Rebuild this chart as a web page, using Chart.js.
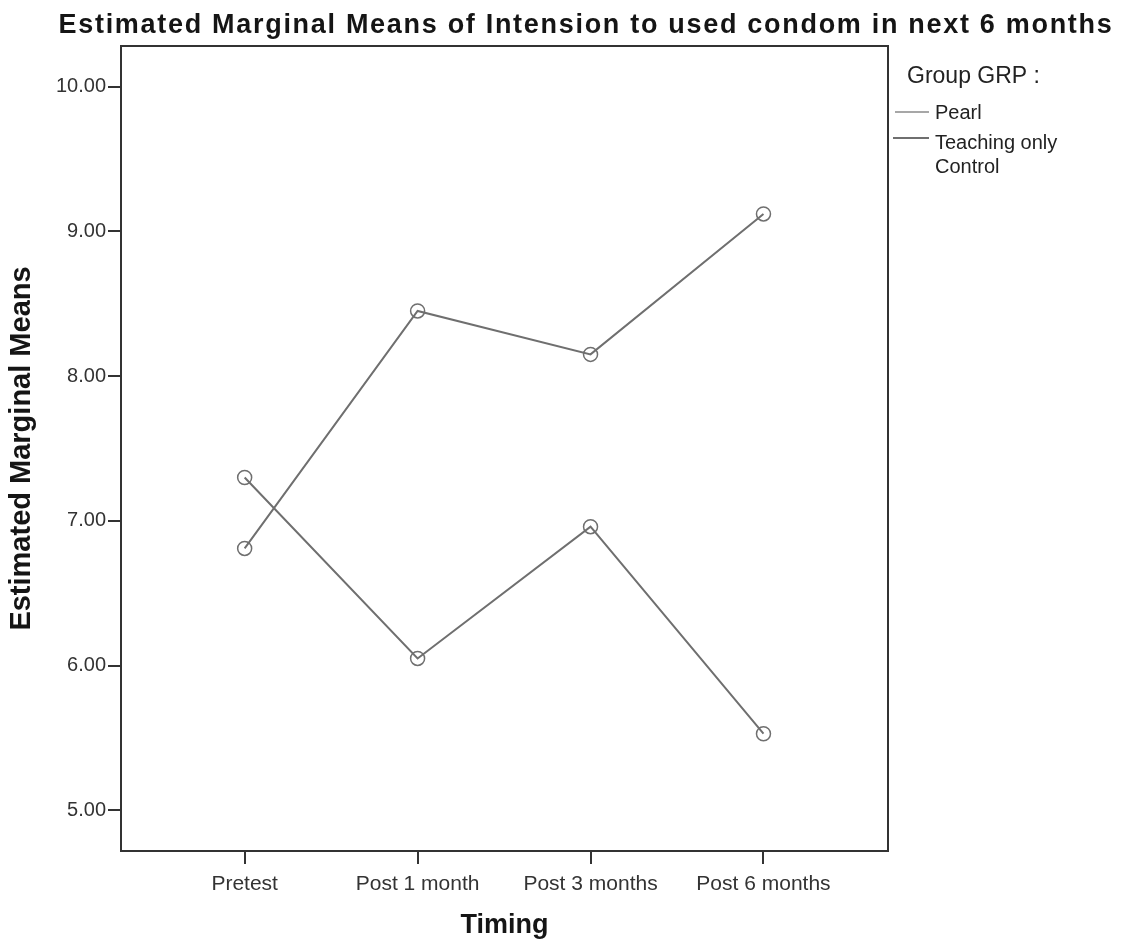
<!DOCTYPE html>
<html>
<head>
<meta charset="utf-8">
<title>Estimated Marginal Means</title>
<script src="https://cdn.jsdelivr.net/npm/chart.js@4"></script>
<style>
  html, body { margin: 0; padding: 0; background: #fff; }
  #wrap { width: 1124px; height: 942px; }
</style>
</head>
<body>
<div id="wrap"><canvas id="emmChart" width="1124" height="942"></canvas></div>
<script>
// ==================== DATA ====================
const timingLabels = ['Pretest', 'Post 1 month', 'Post 3 months', 'Post 6 months'];
const pearlMeans = [6.81, 8.45, 8.15, 9.12];
const controlMeans = [7.30, 6.05, 6.96, 5.53];
const yTicks = [5, 6, 7, 8, 9, 10];
const groupNames = ['Pearl', ['Teaching only', 'Control']];

const FONT = "'Liberation Sans', Arial, sans-serif";
const LINE_GREY = '#6f6f6f';

function toPoints(values) {
  return values.map((v, i) => ({ x: i, y: v }));
}

// ==================== EXTRA DRAWING ====================
// frame round the plot, title on top and the group legend on the right
const spssExtras = {
  id: 'spssExtras',
  afterDraw(chart) {
    const { ctx, chartArea: a } = chart;
    ctx.save();
    ctx.strokeStyle = '#333';
    ctx.lineWidth = 2;
    ctx.strokeRect(a.left, a.top, a.right - a.left, a.bottom - a.top);

    // title
    ctx.fillStyle = '#151515';
    ctx.font = 'bold 27px ' + FONT;
    ctx.textAlign = 'center';
    ctx.textBaseline = 'alphabetic';
    ctx.letterSpacing = '1.7px';
    ctx.fillText('Estimated Marginal Means of Intension to used condom in next 6 months', 586, 33);
    ctx.letterSpacing = '0px';

    // legend
    ctx.textAlign = 'left';
    ctx.fillStyle = '#222';
    ctx.font = '23px ' + FONT;
    ctx.fillText('Group GRP :', 907, 83);

    ctx.font = '20px ' + FONT;
    ctx.strokeStyle = '#8a8a8a';
    ctx.lineWidth = 1.5;
    ctx.beginPath(); ctx.moveTo(895, 112); ctx.lineTo(929, 112); ctx.stroke();
    ctx.fillText(groupNames[0], 935, 119);

    ctx.strokeStyle = LINE_GREY;
    ctx.lineWidth = 2;
    ctx.beginPath(); ctx.moveTo(893, 138); ctx.lineTo(929, 138); ctx.stroke();
    ctx.fillText(groupNames[1][0], 935, 149);
    ctx.fillText(groupNames[1][1], 935, 173);
    ctx.restore();
  }
};

// ==================== LINE CHART ====================
function initMeansChart(canvas) {
  const lineStyle = {
    borderColor: LINE_GREY,
    borderWidth: 2,
    pointStyle: 'circle',
    pointRadius: 7,
    pointBorderWidth: 1.5,
    pointBorderColor: LINE_GREY,
    pointBackgroundColor: 'rgba(0,0,0,0)',
    tension: 0,
    fill: false
  };

  new Chart(canvas, {
    type: 'line',
    data: {
      datasets: [
        Object.assign({ label: 'Pearl', data: toPoints(pearlMeans) }, lineStyle),
        Object.assign({ label: 'Teaching only Control', data: toPoints(controlMeans) }, lineStyle)
      ]
    },
    options: {
      responsive: false,
      animation: false,
      layout: { padding: { top: 46, right: 236, left: 0, bottom: 0 } },
      plugins: {
        legend: { display: false },
        title: { display: false },
        tooltip: { enabled: false }
      },
      scales: {
        x: {
          type: 'linear',
          min: -0.715,
          max: 3.72,
          afterBuildTicks: (scale) => { scale.ticks = timingLabels.map((_, i) => ({ value: i })); },
          afterFit: (scale) => { scale.height = 91; },
          border: { display: true, color: '#333', width: 2 },
          grid: { drawOnChartArea: false, drawTicks: true, tickLength: 13, color: '#333', lineWidth: 2 },
          ticks: {
            color: '#333',
            font: { family: FONT, size: 21 },
            padding: 8,
            maxRotation: 0,
            callback: (v) => timingLabels[v]
          },
          title: {
            display: true,
            text: 'Timing',
            color: '#151515',
            font: { family: FONT, size: 27, weight: 'bold' },
            padding: { top: 0, bottom: 0 }
          }
        },
        y: {
          min: 4.72,
          max: 10.28,
          afterBuildTicks: (scale) => { scale.ticks = yTicks.map(v => ({ value: v })); },
          afterFit: (scale) => { scale.width = 121; },
          border: { display: true, color: '#333', width: 2 },
          grid: { drawOnChartArea: false, drawTicks: true, tickLength: 13, color: '#333', lineWidth: 2 },
          ticks: {
            color: '#333',
            font: { family: FONT, size: 20 },
            padding: 2,
            callback: (v) => v.toFixed(2)
          },
          title: {
            display: true,
            text: 'Estimated Marginal Means',
            color: '#151515',
            font: { family: FONT, size: 29, weight: 'bold' },
            padding: { top: 5, bottom: 0 }
          }
        }
      }
    },
    plugins: [spssExtras]
  });
}

document.addEventListener('DOMContentLoaded', function () {
  initMeansChart(document.getElementById('emmChart'));
});
</script>
</body>
</html>
